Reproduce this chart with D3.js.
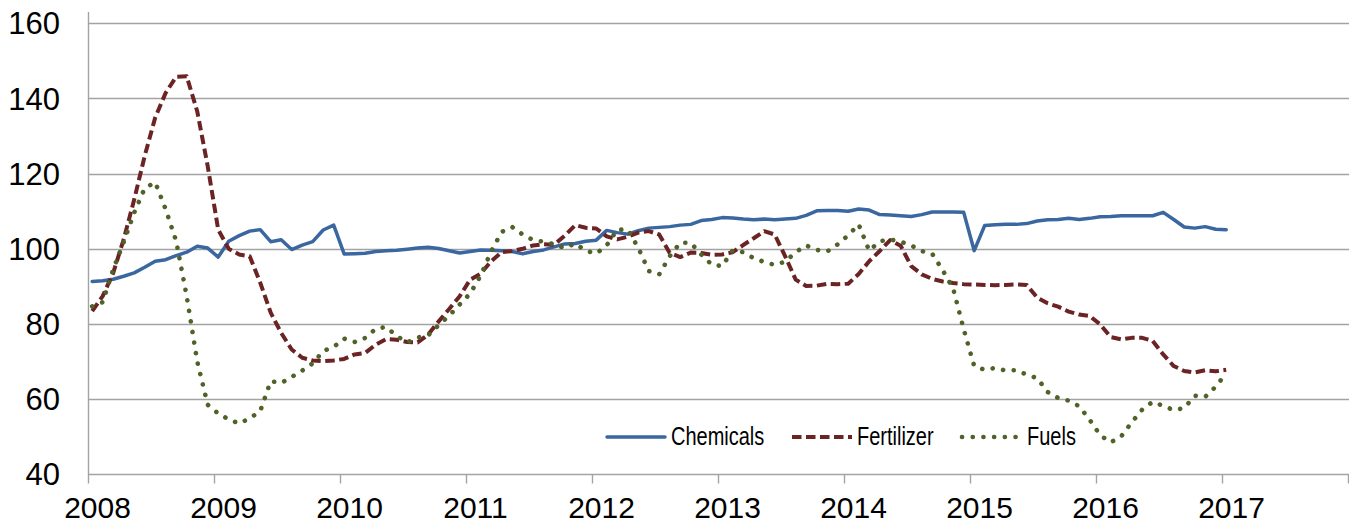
<!DOCTYPE html>
<html>
<head>
<meta charset="utf-8">
<script src="https://cdn.jsdelivr.net/npm/d3@7"></script>
<style>
  body { margin: 0; background: #fff; }
  svg { display: block; }
</style>
</head>
<body>
<div id="chart-target"></div>
<script>
// monthly index values, Jan 2008 .. Jan 2017
var startYear = 2008;

var chemicals = [
  91.3, 91.5, 91.9, 92.7, 93.6, 95.1, 96.7, 97.1, 98.2, 99.1, 100.7, 100.2,
  97.8, 102.0, 103.5, 104.7, 105.1, 101.9, 102.4, 99.8, 101.0, 101.9, 105.0, 106.3,
  98.6, 98.7, 98.8, 99.3, 99.5, 99.6, 99.9, 100.2, 100.4, 100.1, 99.5, 98.9,
  99.3, 99.7, 99.6, 99.5, 99.3, 98.7, 99.3, 99.7, 100.5, 101.3, 101.4, 102.0,
  102.3, 104.9, 104.3, 103.9, 104.8, 105.5, 105.7, 105.9, 106.3, 106.5, 107.5, 107.8,
  108.3, 108.2, 107.9, 107.7, 107.9, 107.7, 107.9, 108.1, 108.9, 110.1, 110.2, 110.2,
  110.0, 110.6, 110.3, 109.1, 109.0, 108.8, 108.6, 109.1, 109.8, 109.8, 109.8, 109.7,
  99.5, 106.2, 106.4, 106.5, 106.5, 106.7, 107.4, 107.7, 107.8, 108.1, 107.8, 108.1,
  108.5, 108.6, 108.8, 108.8, 108.8, 108.8, 109.7, 107.8, 105.8, 105.5, 105.9, 105.2,
  105.1
];

var fertilizer = [
  83.4, 87.4, 93.6, 102.5, 113.1, 124.7, 134.9, 141.5, 145.8, 145.9, 136.6, 122.0,
  105.1, 100.0, 98.5, 98.0, 91.0, 83.0, 77.6, 73.2, 71.0, 70.3, 70.1, 70.3,
  70.7, 71.9, 72.3, 74.5, 76.0, 75.8, 75.2, 75.1, 77.2, 80.7, 84.0, 87.4,
  91.8, 93.4, 96.7, 99.1, 99.4, 100.0, 100.9, 101.2, 101.1, 103.5, 106.3, 105.6,
  105.4, 103.3, 102.5, 103.2, 104.3, 104.7, 103.8, 98.9, 97.8, 99.0, 98.9, 98.4,
  98.5, 99.1, 101.0, 102.8, 104.7, 103.8, 98.0, 91.8, 90.1, 90.2, 90.7, 90.6,
  90.7, 93.3, 96.7, 99.4, 102.3, 100.8, 95.4, 93.2, 92.0, 91.3, 90.9, 90.6,
  90.5, 90.4, 90.3, 90.4, 90.5, 90.4, 87.0, 85.5, 84.6, 83.3, 82.5, 82.1,
  79.9, 76.5, 75.9, 76.3, 76.3, 75.5, 71.9, 68.8, 67.5, 67.1, 67.7, 67.4,
  67.8
];

var fuels = [
  84.7, 85.8, 94.5, 101.8, 109.6, 116.1, 117.7, 110.5, 102.0, 87.4, 70.1, 58.5,
  56.2, 54.6, 53.5, 54.9, 56.8, 64.8, 64.3, 65.9, 67.6, 69.5, 72.8, 73.9,
  76.1, 75.2, 76.3, 78.7, 79.2, 76.8, 75.1, 76.4, 77.0, 79.7, 82.2, 85.2,
  88.1, 92.9, 99.3, 104.5, 105.8, 103.8, 102.3, 101.9, 101.2, 100.2, 101.4, 99.5,
  98.7, 100.9, 105.1, 105.1, 100.3, 94.1, 93.2, 98.0, 101.6, 101.6, 98.5, 95.8,
  95.4, 99.6, 99.1, 97.5, 96.5, 95.7, 96.6, 99.1, 100.9, 99.7, 99.3, 101.2,
  103.6, 106.5, 99.5, 102.0, 102.5, 101.9, 100.9, 99.4, 98.7, 94.3, 89.4, 78.6,
  68.8, 67.8, 68.3, 67.6, 67.7, 66.5, 65.6, 61.9, 60.3, 59.6, 58.1, 54.5,
  50.4, 48.5, 50.1, 53.8, 57.2, 59.3, 58.2, 57.1, 57.6, 60.9, 60.6, 63.3,
  66.9
];

var seriesNames = ["Chemicals", "Fertilizer", "Fuels"];
var yearTicks = [2008, 2009, 2010, 2011, 2012, 2013, 2014, 2015, 2016, 2017, 2018];
var yTicks = [40, 60, 80, 100, 120, 140, 160];

var width = 1349,
    height = 523;

var svg = d3.select('#chart-target').append('svg')
  .attr('width', width)
  .attr('height', height);

var x = d3.scaleLinear()
  .domain([2008, 2018])
  .range([88, 1348]);

var y = d3.scaleLinear()
  .domain([40, 160])
  .range([474.3, 23.3]);

// month i sits a little past the start of its month on the date axis
function monthPos(i) {
  return startYear + (i + 0.4) / 12;
}

var gridColor = '#a3a3a3';
var labelFont = '"Liberation Sans", Arial, sans-serif';

// horizontal gridlines
svg.append('g')
  .attr('class', 'grid')
  .selectAll('line')
  .data(yTicks.slice(1))
  .enter().append('line')
  .attr('x1', 88)
  .attr('x2', width)
  .attr('y1', (d) => Math.round(y(d)) + 0.5)
  .attr('y2', (d) => Math.round(y(d)) + 0.5)
  .attr('stroke', gridColor)
  .attr('stroke-width', 1.4);

// y axis labels
svg.append('g')
  .attr('class', 'y-labels')
  .selectAll('text')
  .data(yTicks)
  .enter().append('text')
  .attr('x', 60)
  .attr('y', (d) => y(d))
  .attr('dy', '0.36em')
  .attr('text-anchor', 'end')
  .attr('font-family', labelFont)
  .attr('font-size', 31)
  .attr('fill', '#000')
  .text((d) => d);

// y axis line
svg.append('line')
  .attr('x1', 88.5).attr('x2', 88.5)
  .attr('y1', 12).attr('y2', Math.round(y(40)) + 0.5)
  .attr('stroke', gridColor)
  .attr('stroke-width', 1.4);

// x axis
var xAxis = d3.axisBottom(x)
  .tickValues(yearTicks)
  .tickSize(9)
  .tickFormat((d) => d === 2018 ? '' : d);

var xg = svg.append('g')
  .attr('class', 'x-axis')
  .attr('transform', `translate(0, ${Math.round(y(40)) + 0.5})`)
  .call(xAxis);

xg.select('.domain')
  .attr('d', `M88,0H${width}`)
  .attr('stroke', gridColor)
  .attr('stroke-width', 1.4);

xg.selectAll('.tick line')
  .attr('stroke', gridColor)
  .attr('stroke-width', 1.4);

xg.selectAll('.tick text')
  .attr('x', 9)
  .attr('y', 43)
  .attr('dy', null)
  .attr('font-family', labelFont)
  .attr('font-size', 30)
  .attr('fill', '#000');

var lineGen = d3.line()
  .x((d, i) => x(monthPos(i)))
  .y((d) => y(d));

var styles = [
  { color: '#3a67a0', width: 3.5, dash: null, cap: 'round' },
  { color: '#6b2323', width: 4, dash: '9.5,4.5', cap: 'butt' },
  { color: '#4f6228', width: 4.6, dash: '0.1,10.6', cap: 'round' }
];

var allSeries = [chemicals, fertilizer, fuels];

var lines = svg.append('g').attr('class', 'series');

allSeries.forEach((values, k) => {
  var s = styles[k];
  var p = lines.append('path')
    .datum(values)
    .attr('d', lineGen)
    .attr('fill', 'none')
    .attr('stroke', s.color)
    .attr('stroke-width', s.width)
    .attr('stroke-linejoin', 'round')
    .attr('stroke-linecap', s.cap);
  if (s.dash) { p.attr('stroke-dasharray', s.dash) }
});

// legend
var legendItems = [
  { name: seriesNames[0], x1: 607, x2: 665, tx: 671 },
  { name: seriesNames[1], x1: 792, x2: 852, tx: 857 },
  { name: seriesNames[2], x1: 962, x2: 1024, tx: 1027 }
];

var legend = svg.append('g').attr('class', 'legend');

legendItems.forEach((item, k) => {
  var s = styles[k];
  var l = legend.append('line')
    .attr('x1', item.x1).attr('x2', item.x2)
    .attr('y1', 437).attr('y2', 437)
    .attr('stroke', s.color)
    .attr('stroke-width', s.width)
    .attr('stroke-linecap', s.cap);
  if (s.dash) { l.attr('stroke-dasharray', s.dash) }

  // the legend text is horizontally condensed in the original
  legend.append('text')
    .attr('transform', `translate(${item.tx}, 445) scale(0.8, 1)`)
    .attr('font-family', labelFont)
    .attr('font-size', 25)
    .attr('fill', '#000')
    .text(item.name);
});
</script>
</body>
</html>
